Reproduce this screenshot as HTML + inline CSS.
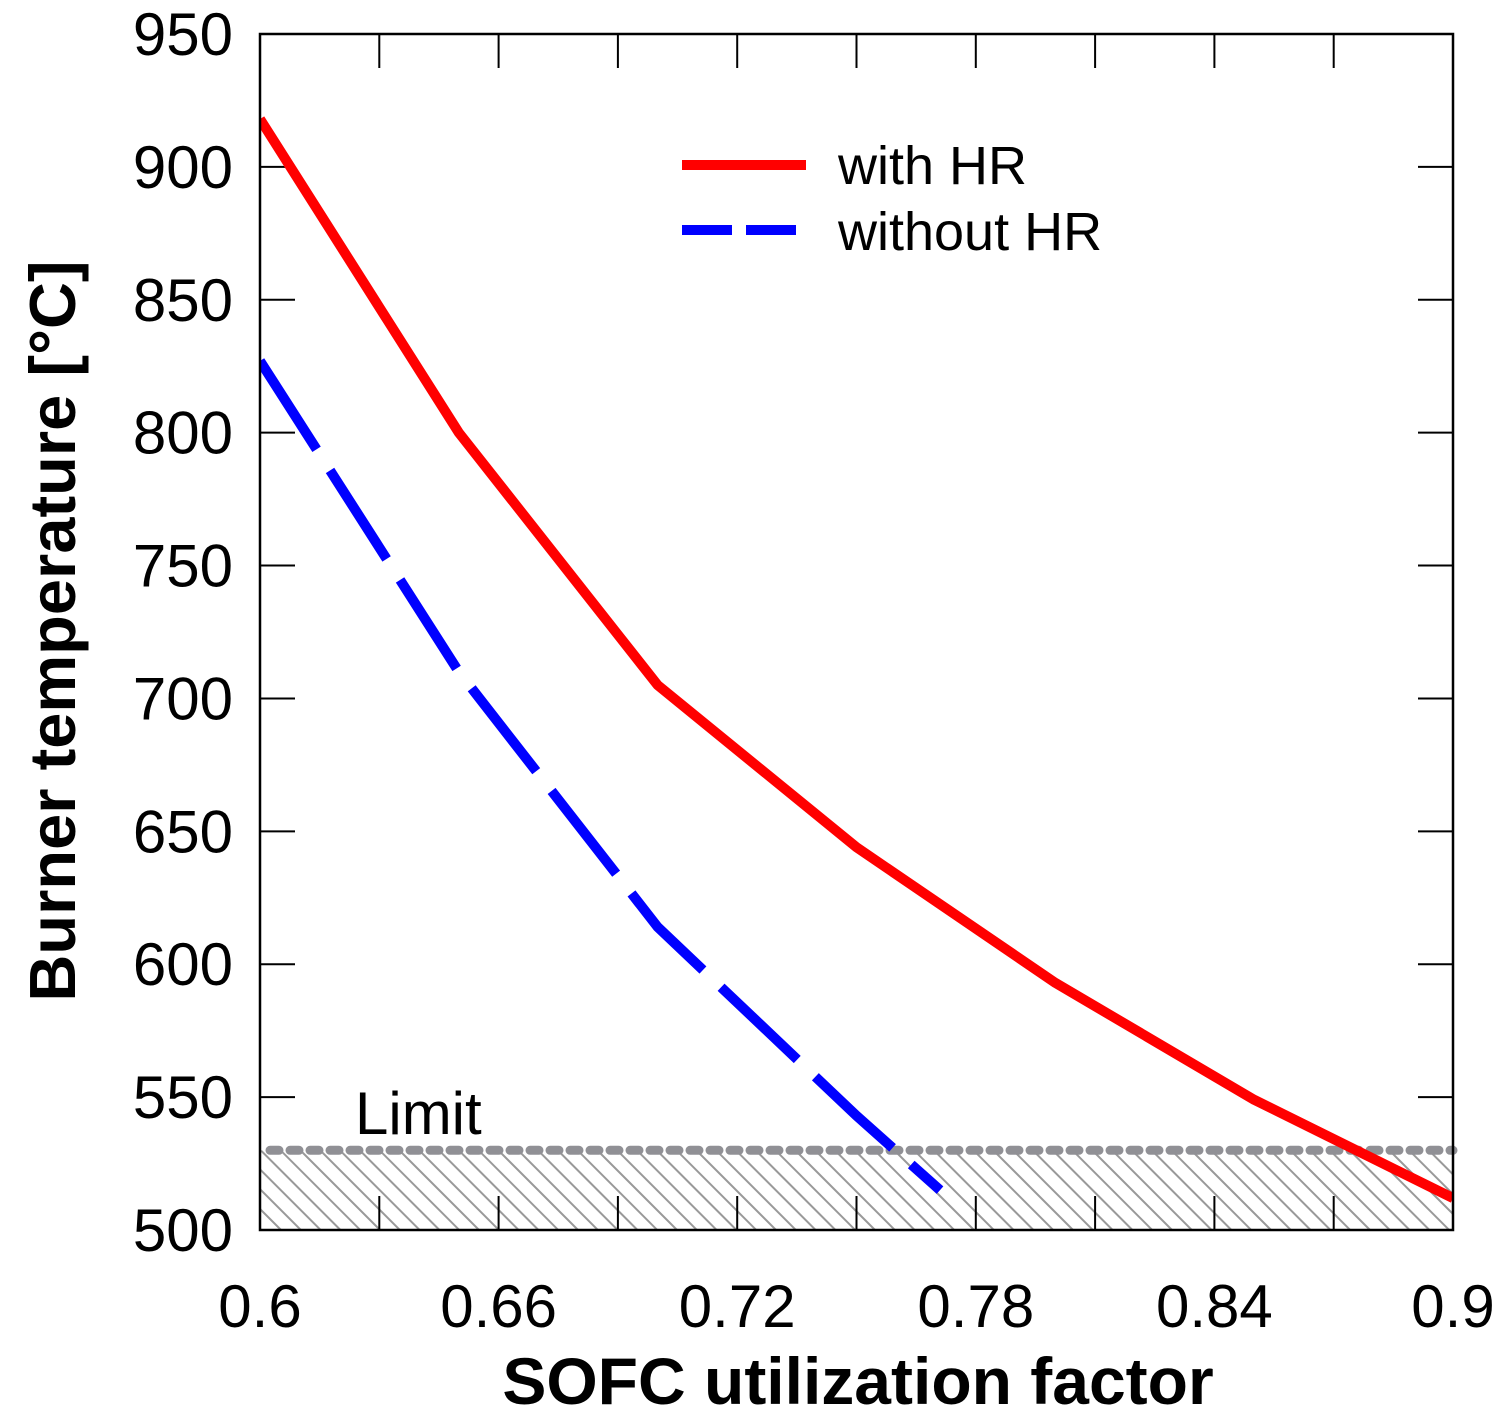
<!DOCTYPE html>
<html><head><meta charset="utf-8"><style>
html,body{margin:0;padding:0;background:#fff;}
svg{display:block;font-family:"Liberation Sans",Arial,sans-serif;}
</style></head><body>
<svg id="chart" width="1510" height="1426" viewBox="0 0 1510 1426" xmlns="http://www.w3.org/2000/svg">
<defs>
<pattern id="hatch" patternUnits="userSpaceOnUse" width="14" height="14" patternTransform="rotate(-45)">
<line x1="0" y1="0" x2="0" y2="14" stroke="#999" stroke-width="4"/>
</pattern>
<clipPath id="plotclip"><rect x="260" y="34" width="1193" height="1196"/></clipPath>
</defs>
<g id="layer"></g>
</svg>
<script>
const xTicks=[0.6,0.66,0.72,0.78,0.84,0.9];
const xTickLabels=["0.6","0.66","0.72","0.78","0.84","0.9"];
const yTicks=[500,550,600,650,700,750,800,850,900,950];
const withHRx=[0.6,0.65,0.70,0.75,0.80,0.85,0.90];
const withHRy=[918,800,705,644,593,549,512];
const withoutHRx=[0.6,0.65,0.70,0.75,0.771];
const withoutHRy=[827,710,614,543,515];
const limitValue=530;

const X0=260,X1=1453,Y0=1230,Y1=34;
const xs=v=>X0+(v-0.6)/(0.3)*(X1-X0);
const ys=v=>Y0-(v-500)/450*(Y0-Y1);
const NS="http://www.w3.org/2000/svg";
const g=document.getElementById('layer');
function mk(t,a,parent){const e=document.createElementNS(NS,t);for(const k in a)e.setAttribute(k,a[k]);(parent||g).appendChild(e);return e;}

const hr=mk('rect',{x:X0,y:ys(limitValue),width:X1-X0,height:Y0-ys(limitValue),fill:'url(#hatch)'});



for(let v=0.6;v<=0.9001;v+=0.03){
  const x=xs(v);
  const t1=mk('line',{x1:x,y1:Y0,x2:x,y2:Y0-34,stroke:'#000','stroke-width':2});
  
  
  const t2=mk('line',{x1:x,y1:Y1,x2:x,y2:Y1+34,stroke:'#000','stroke-width':2});
  
  
}
yTicks.forEach(v=>{
  const y=ys(v);
  const t1=mk('line',{x1:X0,y1:y,x2:X0+35,y2:y,stroke:'#000','stroke-width':2});
  
  
  const t2=mk('line',{x1:X1,y1:y,x2:X1-35,y2:y,stroke:'#000','stroke-width':2});
  
  
  const l=mk('text',{x:233,y:y+21,'font-size':60,'text-anchor':'end',fill:'#000'});
  l.textContent=String(v);
  
  
});
xTicks.forEach((v,i)=>{
  const l=mk('text',{x:xs(v),y:1327,'font-size':60,'text-anchor':'middle',fill:'#000'});
  l.textContent=xTickLabels[i];
  
  
});

const ll=mk('line',{x1:X0+10,y1:ys(limitValue),x2:X1,y2:ys(limitValue),stroke:'#909095','stroke-width':9,'stroke-linecap':'round','stroke-dasharray':'9 11'});


const lt=mk('text',{x:355,y:1134,'font-size':60,fill:'#000'});
lt.textContent='Limit';



function pts(xa,ya){return xa.map((x,i)=>xs(x)+','+ys(ya[i])).join(' ');}
const cg=mk('g',{'clip-path':'url(#plotclip)'});
const r=mk('polyline',{points:pts(withHRx,withHRy),fill:'none',stroke:'#ff0000','stroke-width':10,'stroke-linejoin':'round'},cg);


const b=mk('polyline',{points:pts(withoutHRx,withoutHRy),fill:'none',stroke:'#0000ff','stroke-width':10,'stroke-dasharray':'105 25'},cg);



const f=mk('rect',{x:X0,y:Y1,width:X1-X0,height:Y0-Y1,fill:'none',stroke:'#000','stroke-width':2.5});



const lg=mk('g',{});


mk('line',{x1:682,y1:165,x2:806,y2:165,stroke:'#ff0000','stroke-width':10},lg);
mk('line',{x1:682,y1:230,x2:806,y2:230,stroke:'#0000ff','stroke-width':10,'stroke-dasharray':'50 14'},lg);
const l1=mk('text',{x:838,y:184,'font-size':54,fill:'#000'},lg);l1.textContent='with HR';


const l2=mk('text',{x:838,y:250,'font-size':54,fill:'#000'},lg);l2.textContent='without HR';



const xt=mk('text',{x:858,y:1404,'font-size':66,'font-weight':'bold','text-anchor':'middle',fill:'#000'});
xt.textContent='SOFC utilization factor';


const yt=mk('text',{x:0,y:0,'font-size':65,'font-weight':'bold','text-anchor':'middle',fill:'#000',transform:'translate(75,631) rotate(-90)'});
yt.textContent='Burner temperature [°C]';


</script>
</body></html>
